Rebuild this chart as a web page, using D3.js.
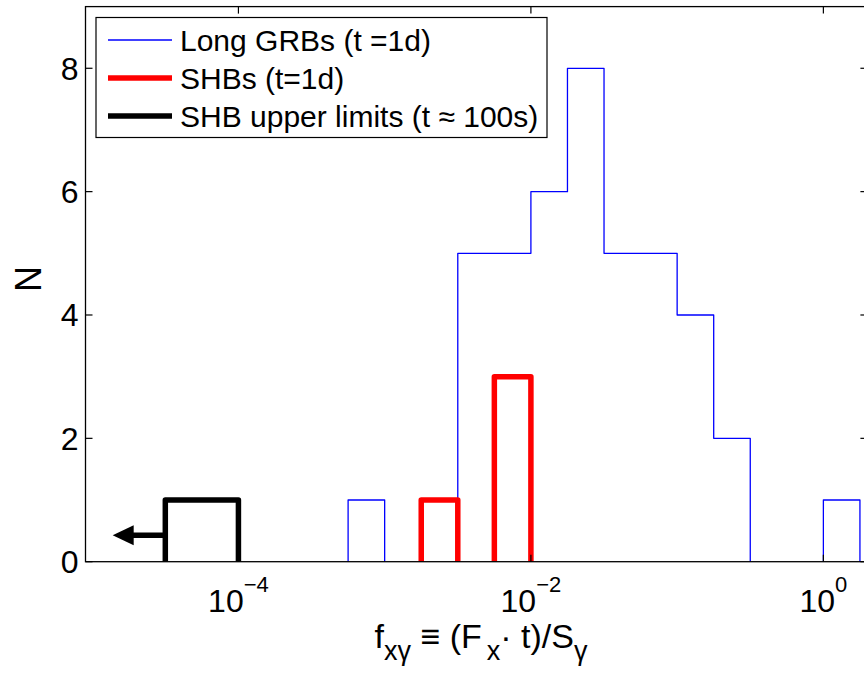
<!DOCTYPE html>
<html>
<head>
<meta charset="utf-8">
<script src="https://cdn.jsdelivr.net/npm/d3@7"></script>
<style>
  body { margin: 0; background: #fff; }
  text { font-family: "Liberation Sans", Arial, Helvetica, sans-serif; fill: #000; }
</style>
</head>
<body>
<svg id="chart" width="864" height="677"></svg>
<script>
// bin edges are log10(f_xγ), counts are N per bin
const grbEdges = [-3.25, -3, -2.75, -2.5, -2.25, -2, -1.75, -1.5, -1.25, -1, -0.75, -0.5, -0.25, 0, 0.25];
const grbCounts = [1, 0, 0, 5, 5, 6, 8, 5, 5, 4, 2, 0, 0, 1];
const shbEdges = [-2.75, -2.5, -2.25, -2];
const shbCounts = [1, 0, 3];
const limEdges = [-4.5, -4];
const limCounts = [1];
const arrowX = [-4.5, -4.86]; // log10 f, from bar edge to arrow tip
const arrowN = 0.43;

const xTicks = [-4, -2, 0];
const yTicks = [0, 2, 4, 6, 8];
const legendLabels = ["Long GRBs (t =1d)", "SHBs (t=1d)", "SHB upper limits (t \u2248 100s)"];

const svg = d3.select("#chart");
const mLeft = 85.5, mRight = 867.4, mTop = 6.6, mBottom = 561.7;

const x = d3.scaleLog().domain([9e-6, 2]).range([mLeft, mRight]);
const y = d3.scaleLinear().domain([0, 9]).range([mBottom, mTop]);

const line = d3.line().x(d => x(Math.pow(10, d[0]))).y(d => y(d[1]));

// outline each run of non-empty bins as an open step path
function runs(edges, counts) {
  const out = [];
  let cur = null;
  counts.forEach((c, i) => {
    if (c > 0) {
      if (!cur) { cur = [[edges[i], 0]]; }
      cur.push([edges[i], c], [edges[i + 1], c]);
    } else if (cur) {
      cur.push([edges[i], 0]); out.push(cur); cur = null;
    }
  });
  if (cur) { cur.push([edges[counts.length], 0]); out.push(cur); }
  return out;
}

const series = [
  { edges: grbEdges, counts: grbCounts, color: "#0000ff", width: 1.3 },
  { edges: shbEdges, counts: shbCounts, color: "#ff0000", width: 5.5 },
  { edges: limEdges, counts: limCounts, color: "#000000", width: 5.5 }
];

const plot = svg.append("g");
plot.append("defs").append("clipPath").attr("id", "clip")
  .append("rect").attr("x", mLeft).attr("y", mTop).attr("width", mRight - mLeft).attr("height", mBottom - mTop);

series.forEach(s => {
  runs(s.edges, s.counts).forEach(r => {
    plot.append("path")
      .attr("d", line(r))
      .attr("clip-path", "url(#clip)")
      .style("fill", "none")
      .style("stroke", s.color)
      .style("stroke-width", s.width)
      .style("stroke-linejoin", "round");
  });
});

// upper limit arrow
const ax0 = x(Math.pow(10, arrowX[0])), ax1 = x(Math.pow(10, arrowX[1])), ay = y(arrowN);
plot.append("line")
  .attr("x1", ax0).attr("x2", ax1 + 16).attr("y1", ay).attr("y2", ay)
  .style("stroke", "#000").style("stroke-width", 5.5);
plot.append("path")
  .attr("d", `M${ax1},${ay}L${ax1 + 21},${ay - 10}L${ax1 + 21},${ay + 10}Z`)
  .style("fill", "#000");

// axes box
svg.append("rect")
  .attr("x", mLeft).attr("y", mTop).attr("width", mRight - mLeft).attr("height", mBottom - mTop)
  .style("fill", "none").style("stroke", "#000").style("stroke-width", 1.3);

const tickLen = 7;
const xt = svg.append("g").style("stroke", "#000").style("stroke-width", 1.2);
xTicks.forEach(t => {
  const px = x(Math.pow(10, t));
  xt.append("line").attr("x1", px).attr("x2", px).attr("y1", mBottom).attr("y2", mBottom - tickLen);
  xt.append("line").attr("x1", px).attr("x2", px).attr("y1", mTop).attr("y2", mTop + tickLen);
});
yTicks.forEach(t => {
  const py = y(t);
  xt.append("line").attr("x1", mLeft).attr("x2", mLeft + tickLen).attr("y1", py).attr("y2", py);
  xt.append("line").attr("x1", mRight).attr("x2", mRight - tickLen).attr("y1", py).attr("y2", py);
});

// y tick labels
svg.append("g").selectAll("text").data(yTicks).join("text")
  .attr("x", mLeft - 7).attr("y", d => y(d) + 11.5)
  .attr("text-anchor", "end")
  .style("font-size", "32px")
  .text(d => d);

// x tick labels 10^n
xTicks.forEach(t => {
  const tx = svg.append("text")
    .attr("x", x(Math.pow(10, t))).attr("y", 612)
    .attr("text-anchor", "middle")
    .style("font-size", "32px");
  tx.append("tspan").text("10");
  tx.append("tspan").attr("dy", -20).style("font-size", "22px").text(t === 0 ? "0" : "\u2212" + Math.abs(t));
});

// x label
const xl = svg.append("text")
  .attr("x", 481).attr("y", 648)
  .attr("text-anchor", "middle")
  .style("font-size", "34px");
xl.append("tspan").text("f");
xl.append("tspan").attr("dy", 12).style("font-size", "27px").text("x\u03b3");
xl.append("tspan").attr("dy", -12).text(" \u2261 (F");
xl.append("tspan").attr("dy", 12).attr("dx", 5).style("font-size", "27px").text("x");
xl.append("tspan").attr("dy", -12).text("\u00b7 t)/S");
xl.append("tspan").attr("dy", 12).style("font-size", "27px").text("\u03b3");

// y label
svg.append("text")
  .attr("transform", "translate(41,279) rotate(-90)")
  .attr("text-anchor", "middle")
  .style("font-size", "36px")
  .text("N");

// legend
const lg = svg.append("g");
lg.append("rect")
  .attr("x", 96).attr("y", 17.5).attr("width", 451).attr("height", 120)
  .style("fill", "#fff").style("stroke", "#000").style("stroke-width", 1.2);
legendLabels.forEach((lab, i) => {
  const ly = 40 + i * 38;
  lg.append("line")
    .attr("x1", 108).attr("x2", 172).attr("y1", ly).attr("y2", ly)
    .style("stroke", series[i].color)
    .style("stroke-width", series[i].width);
  lg.append("text")
    .attr("x", 180).attr("y", ly + 10.5)
    .style("font-size", "30px")
    .text(lab);
});
</script>
</body>
</html>
